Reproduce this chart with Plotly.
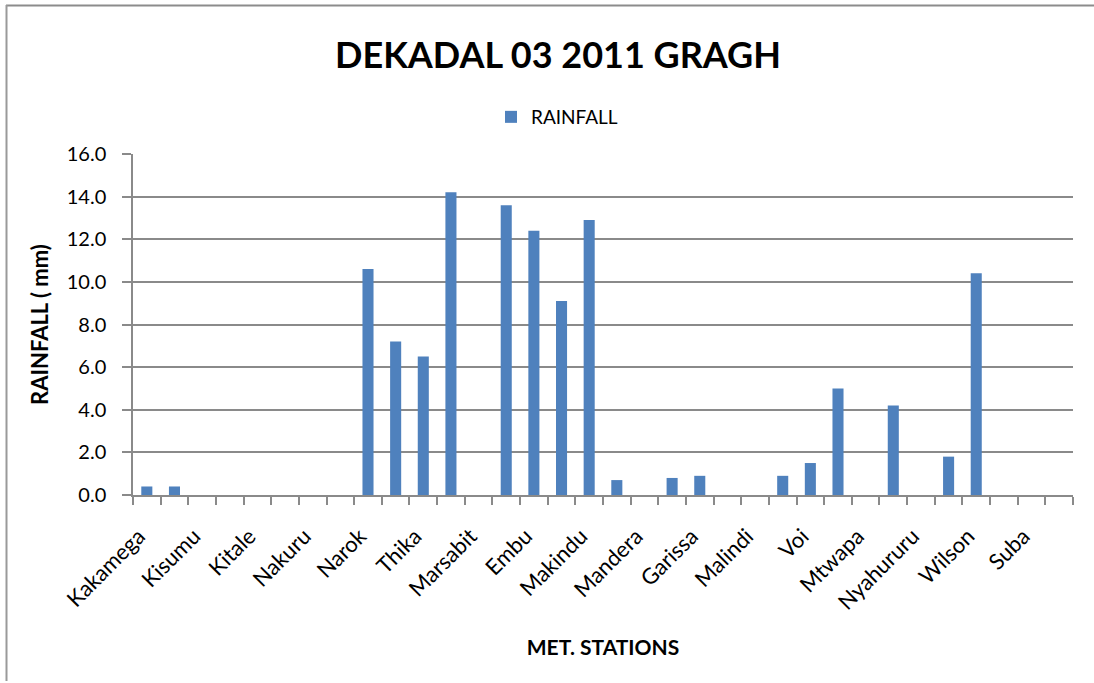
import plotly.graph_objects as go

# Station labels shown on the axis (every other category position)
station_labels = ["Kakamega", "Kisumu", "Kitale", "Nakuru", "Narok", "Thika",
                  "Marsabit", "Embu", "Makindu", "Mandera", "Garissa", "Malindi",
                  "Voi", "Mtwapa", "Nyahururu", "Wilson", "Suba"]
label_positions = list(range(0, 34, 2))

# Rainfall (mm) for each of the 34 category positions
category_index = list(range(34))
rainfall = [0.4, 0.4, 0, 0, 0, 0, 0, 0,
            10.6, 7.2, 6.5, 14.2, 0, 13.6, 12.4, 9.1,
            12.9, 0.7, 0, 0.8, 0.9, 0, 0, 0.9,
            1.5, 5.0, 0, 4.2, 0, 1.8, 10.4, 0,
            0, 0]

y_ticks = [0, 2, 4, 6, 8, 10, 12, 14, 16]
y_ticktext = [f"{v:.1f}" for v in y_ticks]

W, H = 1094, 683
L, R, T, B = 133, 21, 154, 188
PW, PH = W - L - R, H - T - B

def px_x(p):
    return (p - L) / PW

def px_y(p):
    return (H - B - p) / PH

FONT = "Lato"
GRID = "#8a8a8a"

fig = go.Figure()
fig.add_trace(go.Bar(
    x=category_index, y=rainfall, name="RAINFALL",
    marker=dict(color="#4F81BD", line=dict(width=0)),
    width=0.4, showlegend=True,
))

fig.update_layout(
    width=W, height=H,
    margin=dict(l=L, r=R, t=T, b=B, autoexpand=False),
    paper_bgcolor="white", plot_bgcolor="white",
    font=dict(family=FONT, color="#000000"),
    title=dict(text="<b>DEKADAL 03 2011 GRAGH</b>", x=558 / W, xref="container",
               xanchor="center", y=1 - 55 / H, yref="container", yanchor="middle",
               font=dict(family=FONT, size=36, color="#000000")),
    showlegend=True,
    legend=dict(orientation="h", x=px_x(557), y=px_y(117), xanchor="center",
                yanchor="middle", font=dict(family=FONT, size=19),
                bgcolor="rgba(0,0,0,0)"),
    xaxis=dict(
        range=[-0.5, 33.5], tickmode="array", tickvals=label_positions,
        ticktext=station_labels, tickangle=-45, ticks="", ticklabelstandoff=18,
        ticklabelshift=-8,
        tickfont=dict(family=FONT, size=22),
        showgrid=False, zeroline=False, showline=True, linecolor=GRID, linewidth=1.5,
        minor=dict(tickmode="linear", tick0=0.5, dtick=1, ticks="outside",
                   ticklen=8, tickcolor=GRID, tickwidth=1.5, showgrid=False),
        title=dict(text="<b>MET. STATIONS</b>", font=dict(family=FONT, size=21),
                   standoff=27),
        automargin=False,
    ),
    yaxis=dict(
        range=[0, 16], tickmode="array", tickvals=y_ticks, ticktext=y_ticktext,
        ticks="outside", ticklen=9, tickcolor=GRID, tickwidth=1.5,
        ticklabelstandoff=12, tickfont=dict(family=FONT, size=20),
        showgrid=True, gridcolor=GRID, gridwidth=1.5, zeroline=False,
        showline=True, linecolor=GRID, linewidth=1.5,
        title=dict(text="<b>RAINFALL ( mm)</b>", font=dict(family=FONT, size=22),
                   standoff=12),
        automargin=False,
    ),
    shapes=[
        dict(type="line", xref="paper", yref="paper", x0=px_x(6), x1=px_x(1094),
             y0=px_y(5.5), y1=px_y(5.5), line=dict(color="#8c8c8c", width=2)),
        dict(type="line", xref="paper", yref="paper", x0=px_x(6.5), x1=px_x(6.5),
             y0=px_y(5), y1=px_y(681), line=dict(color="#9a9a9a", width=2)),
    ],
)

fig.write_html("out.html", config={"displayModeBar": False},
               post_script="document.body.style.margin='0';document.body.style.overflow='hidden';")
